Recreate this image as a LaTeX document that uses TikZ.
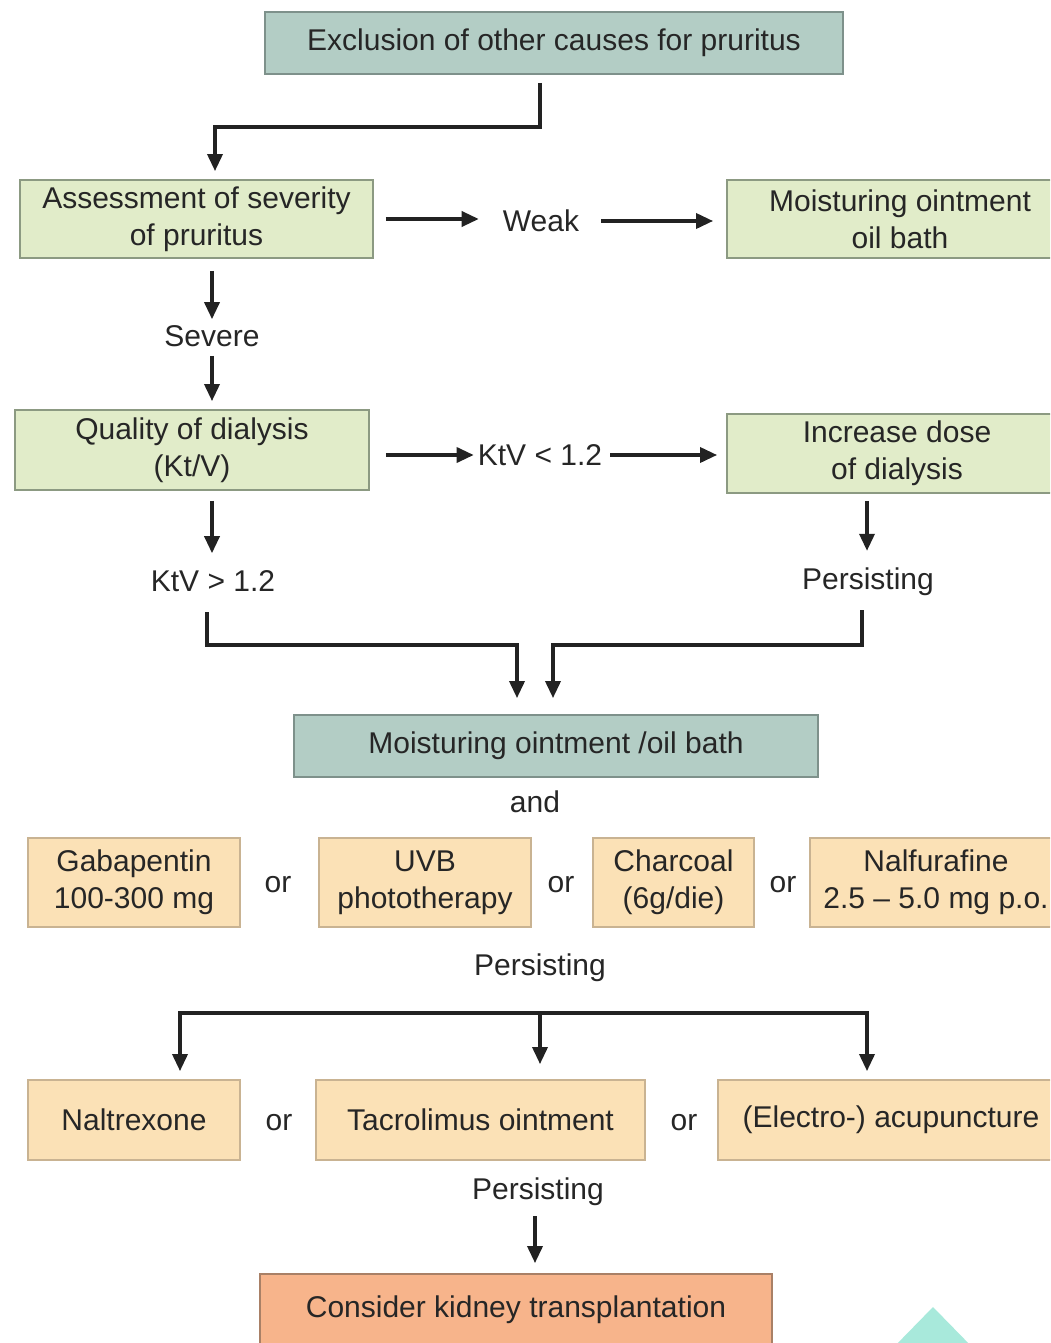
\documentclass[tikz,border=0pt]{standalone}
\usepackage{fontspec}
\setmainfont{Liberation Sans}
\usetikzlibrary{arrows.meta,calc}
\definecolor{tealbox}{HTML}{B3CDC5}
\definecolor{tealedge}{HTML}{7E918B}
\definecolor{greenbox}{HTML}{E1ECC9}
\definecolor{greenedge}{HTML}{8C9A82}
\definecolor{orangebox}{HTML}{FBE1B6}
\definecolor{orangeedge}{HTML}{C9B392}
\definecolor{salmonbox}{HTML}{F7B48B}
\definecolor{salmonedge}{HTML}{A98066}
\definecolor{txt}{HTML}{262626}
\definecolor{linecol}{HTML}{222222}
\definecolor{wmark}{HTML}{A8E9DB}
\newcommand\myfs{\fontsize{30}{37}\selectfont}
\tikzset{
  box/.style={draw, line width=1.8pt, text=txt, align=center, inner sep=0pt, font=\myfs},
  tealnode/.style={box, fill=tealbox, draw=tealedge},
  greennode/.style={box, fill=greenbox, draw=greenedge},
  orangenode/.style={box, fill=orangebox, draw=orangeedge},
  salmonnode/.style={box, fill=salmonbox, draw=salmonedge},
  lbl/.style={text=txt, inner sep=0pt, font=\myfs},
  arr/.style={line width=3.4pt, draw=linecol, -{Triangle[length=17pt,width=15pt]}},
  ln/.style={line width=3.4pt, draw=linecol},
}
\begin{document}
\begin{tikzpicture}[x=1pt,y=-1pt]
\useasboundingbox (0,0) rectangle (1050,1343);
\fill[white] (0,0) rectangle (1050,1343);
\clip (0,0) rectangle (1050,1343);

% boxes
\node[tealnode, minimum width=578pt, minimum height=62pt] (top) at (554,43) {Exclusion of other causes for pruritus};
\node[greennode, minimum width=353pt, minimum height=78pt] (assess) at (196.5,219) {Assessment of severity\\of pruritus};
\node[greennode, minimum width=346pt, minimum height=78pt] (moist1) at (900,219) {Moisturing ointment\\oil bath};
\node[greennode, minimum width=354pt, minimum height=80pt] (quality) at (192,450) {Quality of dialysis\\(Kt/V)};
\node[greennode, minimum width=340pt, minimum height=79pt] (increase) at (897,453.5) {Increase dose\\of dialysis};
\node[tealnode, minimum width=524pt, minimum height=62pt] (moist2) at (556,746) {Moisturing ointment /oil bath};

\node[orangenode, minimum width=212pt, minimum height=89pt] (gaba) at (134,882.5) {Gabapentin\\100-300 mg};
\node[orangenode, minimum width=212pt, minimum height=89pt] (uvb) at (425,882.5) {UVB\\phototherapy};
\node[orangenode, minimum width=161pt, minimum height=89pt] (charcoal) at (673.5,882.5) {Charcoal\\(6g/die)};
\node[orangenode, minimum width=252pt, minimum height=89pt] (nalfu) at (936,882.5) {Nalfurafine\\2.5 – 5.0 mg p.o.};

\node[orangenode, minimum width=212pt, minimum height=80pt] (naltrex) at (134,1120) {Naltrexone};
\node[orangenode, minimum width=329pt, minimum height=80pt] (tacro) at (480.5,1120) {Tacrolimus ointment};
\node[orangenode, minimum width=346pt, minimum height=80pt] (electro) at (891,1120) {(Electro-) acupuncture};

\node[salmonnode, minimum width=512pt, minimum height=72pt] (kidney) at (516,1310) {Consider kidney transplantation};

% labels
\node[lbl] (weak) at (541,221) {Weak};
\node[lbl] (severe) at (212,336) {Severe};
\node[lbl] (ktvlt) at (540,455) {KtV < 1.2};
\node[lbl] (ktvgt) at (213,581) {KtV > 1.2};
\node[lbl] (pers1) at (868,582) {Persisting};
\node[lbl] (and) at (535,802) {and};
\node[lbl] (or1) at (278,885) {or};
\node[lbl] (or2) at (561,885) {or};
\node[lbl] (or3) at (783,885) {or};
\node[lbl] (pers2) at (540,968) {Persisting};
\node[lbl] (or4) at (279,1123) {or};
\node[lbl] (or5) at (684,1123) {or};
\node[lbl] (pers3) at (538,1192) {Persisting};

% connectors
\coordinate (topout) at (540,83);
\draw[arr, shorten >=8pt] (topout) -- (540,127) -| ([xshift=18.5pt]assess.north);

\draw[arr, shorten <=12pt, shorten >=24pt] (assess.east) -- (assess.east -| weak.west);
\draw[arr, shorten <=22pt, shorten >=13pt] (weak.east) -- (weak.east -| moist1.west);

\draw[arr, shorten <=12pt, shorten >=6pt] (severe.north |- assess.south) -- (severe.north);
\draw[arr, shorten <=9pt, shorten >=8pt] (severe.south) -- (severe.south |- quality.north);

\draw[arr, shorten <=16pt, shorten >=4pt] (quality.east |- ktvlt.west) -- (ktvlt.west);
\draw[arr, shorten <=8pt, shorten >=9pt] (ktvlt.east) -- (ktvlt.east -| increase.west);

\draw[arr, shorten <=10pt, shorten >=17pt] (quality.south -| severe.south) -- (ktvgt.north -| severe.south);
\draw[arr, shorten <=7pt, shorten >=17pt] (increase.south -| 867,0) -- (pers1.north -| 867,0);

\coordinate (mergeY) at (0,645);
\draw[arr, shorten >=16pt] (207,612) -- (207,645) -| ([xshift=-39pt]moist2.north);
\draw[arr, shorten >=16pt] (862,610) -- (862,645) -| ([xshift=-3pt]moist2.north);

\coordinate (bl) at (180,1013);
\coordinate (bm) at (540,1013);
\coordinate (br) at (867,1013);
\draw[ln] ([xshift=-1.7pt]bl) -- ([xshift=1.7pt]br);
\draw[arr, shorten >=8pt] (bl) -- (bl |- naltrex.north);
\draw[arr, shorten >=15pt] (bm) -- (bm |- tacro.north);
\draw[arr, shorten >=8pt] (br) -- (br |- electro.north);

\draw[arr, shorten <=10pt, shorten >=10pt] ([xshift=-3pt]pers3.south) -- ([xshift=-3pt]pers3.south |- kidney.north);

% watermark triangle
\fill[wmark] (933,1307) -- (975,1350) -- (891,1350) -- cycle;
\end{tikzpicture}
\end{document}
